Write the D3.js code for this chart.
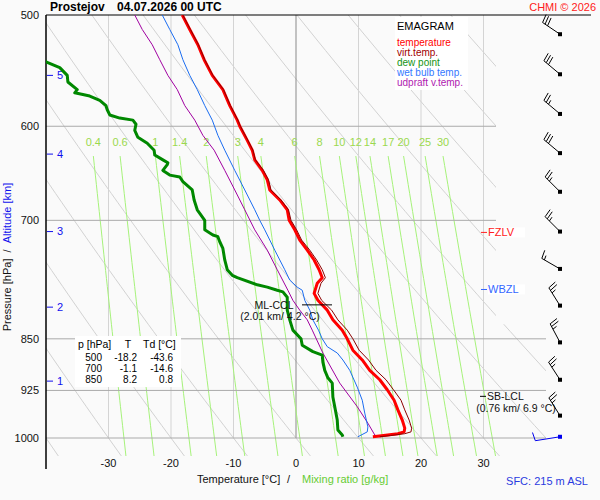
<!DOCTYPE html>
<html>
<head>
<meta charset="utf-8">
<script src="https://cdn.jsdelivr.net/npm/d3@7"></script>
<style>
  body { margin: 0; background: #fafafa; }
  text { font-family: "Liberation Sans", Arial, sans-serif; }
</style>
</head>
<body>
<script>
'use strict';

const pressureTicks = [500, 600, 700, 850, 925, 1000];
const tempTicks = [-30, -20, -10, 0, 10, 20, 30];
const mixRatios = [0.4, 0.6, 1, 1.4, 2, 3, 4, 6, 8, 10, 12, 14, 17, 20, 25, 30];
const dryAdiabats = d3.range(-40, 160, 10);   // theta in degC at 1000 hPa
const altKm = [1, 2, 3, 4, 5];
const altP = [911, 807, 713, 628, 552];

const tempP = [500,512,525,538,552,565,580,594,600,614,624,634,645,655,666,677,688,700,711,723,
               735,747,759,769,776,789,798,811,824,838,850,866,880,895,909,924,940,955,971,984,
               990,993,996,998];
const tempT = [-18.2,-17.0,-15.7,-14.7,-13.4,-11.7,-10.6,-9.4,-9.0,-7.8,-7.0,-6.6,-5.4,-4.6,-4.2,-2.6,-1.4,-1.1,-0.2,0.6,
               1.8,2.9,3.7,4.2,3.4,2.9,3.5,5.0,5.9,7.4,8.2,9.1,10.6,11.8,13.4,14.6,15.7,16.3,17.0,17.4,
               17.3,16.3,14.0,12.3];
const virtT = [-18.1,-16.9,-15.6,-14.6,-13.3,-11.6,-10.5,-9.3,-8.9,-7.7,-6.9,-6.5,-5.2,-4.4,-4.0,-2.4,-1.2,-0.8,0.1,0.9,
               2.2,3.3,4.2,4.7,4.0,3.5,4.1,5.7,6.7,8.2,9.1,10.1,11.6,12.8,14.4,15.6,16.8,17.4,18.1,18.5,
               18.4,17.4,15.1,13.4];

const dewP = [500,520,540,545,552,558,565,568,571,575,580,584,589,592,594,598,604,611,617,624,
              629,634,637,639,645,650,652,657,666,677,688,692,700,711,717,719,725,733,747,759,
              766,769,778,781,785,787,794,811,824,838,850,859,868,873,883,895,906,914,935,950,
              971,987,995,998];
const dewT = [-43.6,-42.5,-40.0,-37.8,-36.6,-36.5,-35.0,-35.4,-33.0,-31.4,-30.4,-30.2,-29.8,-28.2,-26.1,-25.6,-25.8,-25.3,-23.8,-22.7,
              -22.6,-21.3,-20.5,-20.6,-21.3,-20.2,-18.6,-18.1,-16.6,-16.3,-15.8,-15.4,-14.6,-14.6,-13.3,-12.5,-12.2,-11.7,-11.4,-11.0,
              -10.2,-9.4,-6.2,-4.6,-3.0,-2.1,-1.4,-1.4,-1.0,-0.5,0.8,1.0,2.7,4.2,4.3,4.6,5.1,5.8,5.9,6.2,
              6.6,6.7,7.4,7.5];

const wetP = [500,512,525,538,552,565,580,594,609,624,645,666,688,700,711,735,759,772,781,785,
              798,811,824,838,850,861,870,880,895,920,940,960,982,990,998];
const wetT = [-21.4,-20.2,-18.9,-18.1,-17.0,-15.8,-14.6,-13.4,-12.5,-11.4,-9.8,-8.2,-6.6,-5.8,-5.0,-3.4,-1.8,-1.0,0.2,1.0,
              1.4,2.2,2.7,3.6,4.2,5.0,6.6,7.5,8.6,9.8,10.6,11.0,11.5,11.4,9.9];

const parcelP = [500,512,525,538,552,565,580,594,609,624,645,666,688,711,735,759,785,798,811,824,
                 838,870,914,950,976,995,998];
const parcelT = [-25.8,-24.6,-23.0,-21.8,-20.5,-19.0,-17.8,-16.2,-14.9,-13.1,-11.4,-9.8,-8.2,-6.6,-4.6,-3.0,-1.3,-0.5,0.6,1.8,
                 2.6,4.3,7.0,9.8,11.5,12.6,13.1];

const windP = [516, 551, 588, 627, 668, 713, 758, 805, 855, 909, 964, 998];
const windDir = [304, 310, 310, 310, 315, 315, 300, 328, 332, 327, 328, 261];
const windSpd = [30, 30, 25, 30, 25, 25, 15, 25, 25, 25, 25, 10];

const tableP = [500, 700, 850];
const tableT = ["-18.2", "-1.1", "8.2"];
const tableTd = ["-43.6", "-14.6", "0.8"];

const legendNames = ["temperature", "virt.temp.", "dew point", "wet bulb temp.", "udpraft v.temp."];
const legendColors = ["#ff0000", "#a00000", "#149414", "#3377ff", "#b020b0"];

// ---- layout ----
const W = 600, H = 500;
const svg = d3.select("body").append("svg")
    .attr("width", W).attr("height", H)
    .style("background", "#fafafa");

const x = d3.scaleLinear().domain([-40, 40]).range([46, 546]);
const y = d3.scaleLog().domain([500, 1000]).range([15, 438]);
const pBottom = 1030;

svg.append("clipPath").attr("id", "plotclip").append("path")
    .attr("d", `M46,${y(500)}H496V${y(830)}H546V${y(pBottom)}H46Z`);

const grid = svg.append("g").attr("clip-path", "url(#plotclip)");
const line = d3.line().x(d => x(d[1])).y(d => y(d[0]));

// dry adiabats
const adiabatP = d3.range(480, 1051, 10);
dryAdiabats.forEach(th => {
    const pts = adiabatP.map(p => [p, (th + 273.15) * Math.pow(p / 1000, 0.2857) - 273.15]);
    grid.append("path").attr("d", line(pts))
        .attr("fill", "none").attr("stroke", "#d2d2d2").attr("stroke-width", 1);
});

// isotherms
tempTicks.forEach(t => {
    grid.append("line")
        .attr("x1", x(t)).attr("x2", x(t))
        .attr("y1", y(500)).attr("y2", y(1000))
        .attr("stroke", t === 0 ? "#8a8a8a" : "#d4d4d4").attr("stroke-width", 1);
});

// mixing ratio lines
function dewFromMix(w, p) {
    const e = w * p / (622 + w);
    const l = Math.log(e / 6.112);
    return 243.5 * l / (17.67 - l);
}
const mixP = d3.range(630, pBottom + 1, 10);
mixRatios.forEach(w => {
    grid.append("path").attr("d", line(mixP.map(p => [p, dewFromMix(w, p)])))
        .attr("fill", "none").attr("stroke", "#a6f27a").attr("stroke-width", 1);
    svg.append("text")
        .attr("x", x(dewFromMix(w, 630))).attr("y", y(630) - 10)
        .attr("text-anchor", "middle").attr("font-size", 11)
        .attr("fill", "#9ad94e").text(w);
});

// isobars
pressureTicks.slice(1).forEach(p => {
    svg.append("line")
        .attr("x1", 46).attr("x2", p < 800 ? 496 : 546)
        .attr("y1", y(p)).attr("y2", y(p))
        .attr("stroke", "#aaaaaa").attr("stroke-width", 1);
});
svg.append("line").attr("x1", 46).attr("x2", 591).attr("y1", y(500)).attr("y2", y(500))
    .attr("stroke", "#000").attr("stroke-width", 1);
svg.append("line").attr("x1", 46).attr("x2", 46).attr("y1", y(500)).attr("y2", 469)
    .attr("stroke", "#000").attr("stroke-width", 1.5);

// pressure labels
svg.selectAll(".plab").data(pressureTicks).enter().append("text")
    .attr("x", 39).attr("y", d => y(d)).attr("dy", "0.35em")
    .attr("text-anchor", "end").attr("font-size", 11).attr("fill", "#111")
    .text(d => d);

// temperature labels
svg.selectAll(".tlab").data(tempTicks).enter().append("text")
    .attr("x", d => x(d)).attr("y", 467)
    .attr("text-anchor", "middle").attr("font-size", 11).attr("fill", "#111")
    .text(d => d);

// altitude labels
altKm.forEach((k, i) => {
    const yy = y(altP[i]);
    svg.append("line").attr("x1", 47).attr("x2", 53).attr("y1", yy).attr("y2", yy)
        .attr("stroke", "#1010ee").attr("stroke-width", 1);
    svg.append("text").attr("x", 57).attr("y", yy).attr("dy", "0.35em")
        .attr("font-size", 11).attr("fill", "#1010ee").text(k);
});

// ---- profiles ----
const plot = svg.append("g").attr("clip-path", "url(#plotclip)");
function profile(ps, ts, color, width) {
    plot.append("path").attr("d", line(ps.map((p, i) => [p, ts[i]])))
        .attr("fill", "none").attr("stroke", color)
        .attr("stroke-width", width).attr("stroke-linejoin", "round");
}
profile(parcelP, parcelT, "#a000a0", 1);
profile(wetP, wetT, "#1a6cf0", 1);
profile(dewP, dewT, "#008800", 3);
profile(tempP, tempT, "#ff0000", 3);
profile(tempP, virtT, "#8b0000", 1);

// ---- level marks ----
function tag(xx, yy, label, color) {
    svg.append("rect").attr("x", xx + 2).attr("y", yy - 5).attr("width", 37).attr("height", 10).attr("fill", "#fff");
    svg.append("line").attr("x1", xx - 5).attr("x2", xx + 1).attr("y1", yy).attr("y2", yy)
        .attr("stroke", color).attr("stroke-width", 1);
    svg.append("text").attr("x", xx + 2).attr("y", yy).attr("dy", "0.35em")
        .attr("font-size", 11).attr("fill", color).text(label);
}
tag(486, y(714), "FZLV", "#ff2020");
tag(486, y(784), "WBZL", "#3366ff");

// ML-CCL
svg.append("line").attr("x1", 302).attr("x2", 332).attr("y1", y(804)).attr("y2", y(804))
    .attr("stroke", "#000").attr("stroke-width", 1);
svg.append("text").attr("x", 274).attr("y", y(804)).attr("dy", "0.35em")
    .attr("text-anchor", "middle").attr("font-size", 10.5).attr("fill", "#111").text("ML-CCL");
svg.append("text").attr("x", 280).attr("y", y(804) + 11).attr("dy", "0.35em")
    .attr("text-anchor", "middle").attr("font-size", 10.5).attr("fill", "#111").text("(2.01 km/ 4.2 °C)");

// SB-LCL
svg.append("line").attr("x1", 480).attr("x2", 486).attr("y1", y(934)).attr("y2", y(934))
    .attr("stroke", "#000").attr("stroke-width", 1);
svg.append("text").attr("x", 487).attr("y", y(934)).attr("dy", "0.35em")
    .attr("font-size", 10.5).attr("fill", "#111").text("SB-LCL");
svg.append("text").attr("x", 516).attr("y", y(934) + 12).attr("dy", "0.35em")
    .attr("text-anchor", "middle").attr("font-size", 10.5).attr("fill", "#111").text("(0.76 km/ 6.9 °C)");

// ---- wind barbs ----
function barb(px, py, dir, spd, len, color) {
    const a = dir * Math.PI / 180;
    const ux = Math.sin(a), uy = -Math.cos(a);
    const nx = -uy, ny = ux;
    const ex = px + ux * len, ey = py + uy * len;
    let d = `M${px},${py}L${ex},${ey}`;
    let pos = 0;
    const full = Math.floor(spd / 10);
    const half = Math.round((spd % 10) / 5);
    for (let i = 0; i < full; i++) {
        const bx = ex - ux * pos, by = ey - uy * pos;
        d += `M${bx},${by}L${bx + nx * 8.5 + ux * 1.5},${by + ny * 8.5 + uy * 1.5}`;
        pos += 3;
    }
    if (half) {
        if (pos === 0) pos = 3;
        const bx = ex - ux * pos, by = ey - uy * pos;
        d += `M${bx},${by}L${bx + nx * 4.5 + ux * 0.8},${by + ny * 4.5 + uy * 0.8}`;
    }
    svg.append("path").attr("d", d).attr("fill", "none")
        .attr("stroke", color).attr("stroke-width", 1);
    svg.append("rect").attr("x", px - 2).attr("y", py - 2)
        .attr("width", 4).attr("height", 4).attr("fill", color);
}
windP.forEach((p, i) => {
    const sfc = i === windP.length - 1;
    barb(560, y(p), windDir[i], windSpd[i], sfc ? 25 : 21, sfc ? "#0000ee" : "#000");
});

// ---- legend ----
svg.append("rect").attr("x", 395).attr("y", 17).attr("width", 73).attr("height", 73).attr("fill", "#fff");
svg.append("text").attr("x", 397).attr("y", 26).attr("dy", "0.35em")
    .attr("font-size", 11).attr("fill", "#000").text("EMAGRAM");
legendNames.forEach((n, i) => {
    svg.append("text").attr("x", 397).attr("y", 42 + i * 10).attr("dy", "0.35em")
        .attr("font-size", 10).attr("fill", legendColors[i]).text(n);
});

// ---- table ----
svg.append("rect").attr("x", 75).attr("y", 336).attr("width", 106).attr("height", 51).attr("fill", "#fff");
svg.append("text").attr("x", 78).attr("y", 344).attr("dy", "0.35em").attr("font-size", 10.5).text("p [hPa]");
svg.append("text").attr("x", 128).attr("y", 344).attr("dy", "0.35em").attr("text-anchor", "middle").attr("font-size", 10.5).text("T");
svg.append("text").attr("x", 143).attr("y", 344).attr("dy", "0.35em").attr("font-size", 10.5).text("Td [°C]");
tableP.forEach((p, i) => {
    const yy = 357 + i * 11;
    svg.append("text").attr("x", 102).attr("y", yy).attr("dy", "0.35em").attr("text-anchor", "end").attr("font-size", 10).text(p);
    svg.append("text").attr("x", 137).attr("y", yy).attr("dy", "0.35em").attr("text-anchor", "end").attr("font-size", 10).text(tableT[i]);
    svg.append("text").attr("x", 173).attr("y", yy).attr("dy", "0.35em").attr("text-anchor", "end").attr("font-size", 10).text(tableTd[i]);
});

// ---- titles ----
svg.append("text").attr("x", 50).attr("y", 7).attr("dy", "0.35em")
    .attr("font-size", 12).attr("font-weight", "bold").text("Prostejov");
svg.append("text").attr("x", 117).attr("y", 7).attr("dy", "0.35em")
    .attr("font-size", 12).attr("font-weight", "bold").text("04.07.2026 00 UTC");
svg.append("text").attr("x", 596).attr("y", 7).attr("dy", "0.35em").attr("text-anchor", "end")
    .attr("font-size", 11).attr("fill", "#ff2020").text("CHMI © 2026");

svg.append("text").attr("x", 197).attr("y", 479).attr("dy", "0.35em")
    .attr("font-size", 11).attr("fill", "#111").text("Temperature [°C]");
svg.append("text").attr("x", 287).attr("y", 479).attr("dy", "0.35em")
    .attr("font-size", 11).attr("fill", "#111").text("/");
svg.append("text").attr("x", 302).attr("y", 479).attr("dy", "0.35em")
    .attr("font-size", 11).attr("fill", "#66cc33").text("Mixing ratio [g/kg]");
svg.append("text").attr("x", 588).attr("y", 481).attr("dy", "0.35em").attr("text-anchor", "end")
    .attr("font-size", 11).attr("fill", "#2a3be0").text("SFC: 215 m ASL");

const ytitle = svg.append("text").attr("transform", "translate(11,257) rotate(-90)")
    .attr("text-anchor", "middle").attr("font-size", 11);
ytitle.append("tspan").attr("fill", "#111").text("Pressure [hPa]\u00a0\u00a0/\u00a0\u00a0");
ytitle.append("tspan").attr("fill", "#1010ee").text("Altitude [km]");
</script>
</body>
</html>
